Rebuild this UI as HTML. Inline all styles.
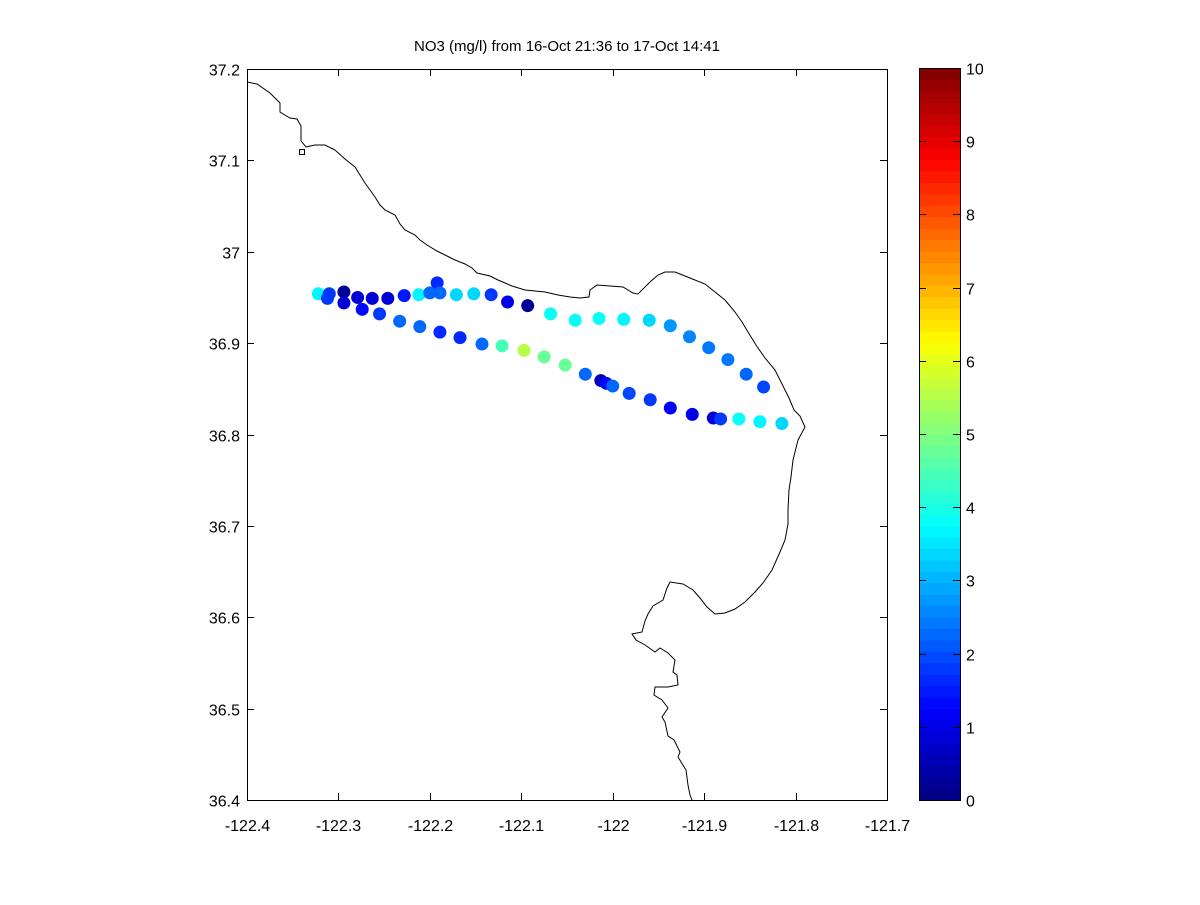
<!DOCTYPE html>
<html><head><meta charset="utf-8"><style>
html,body{margin:0;padding:0;background:#fff;}
svg text{font-family:"Liberation Sans",sans-serif;font-size:16px;fill:#000;}
</style></head><body>
<svg id="chart" width="1200" height="900" viewBox="0 0 1200 900">
<rect x="0" y="0" width="1200" height="900" fill="#fff"/>
<text x="567" y="51" text-anchor="middle" style="font-size:15px">NO3 (mg/l) from 16-Oct 21:36 to 17-Oct 14:41</text>
<g id="plot"></g>
<g id="cbar"></g>
</svg>
<script>
const xTicks = [-122.4,-122.3,-122.2,-122.1,-122,-121.9,-121.8,-121.7];
const xTickLabels = ["-122.4","-122.3","-122.2","-122.1","-122","-121.9","-121.8","-121.7"];
const yTicks = [36.4,36.5,36.6,36.7,36.8,36.9,37,37.1,37.2];
const yTickLabels = ["36.4","36.5","36.6","36.7","36.8","36.9","37","37.1","37.2"];
const cTicks = [0,1,2,3,4,5,6,7,8,9,10];
const lons = [-122.322,-122.310,-122.294,-122.279,-122.263,-122.246,-122.228,-122.212,-122.200,-122.192,-122.189,-122.171,-122.152,-122.133,-122.115,-122.093,-122.068,-122.041,-122.015,-121.988,-121.960,-121.937,-121.916,-121.895,-121.874,-121.854,-121.835,
 -122.312,-122.294,-122.274,-122.255,-122.233,-122.211,-122.189,-122.167,-122.143,-122.121,-122.097,-122.075,-122.052,-122.030,-122.013,-122.007,-122.000,-121.982,-121.959,-121.937,-121.913,-121.890,-121.882,-121.862,-121.839,-121.815];
const lats = [36.954,36.954,36.956,36.950,36.949,36.949,36.952,36.953,36.955,36.966,36.955,36.953,36.954,36.953,36.945,36.941,36.932,36.925,36.927,36.926,36.925,36.919,36.907,36.895,36.882,36.866,36.852,
 36.949,36.944,36.937,36.932,36.924,36.918,36.912,36.906,36.899,36.897,36.892,36.885,36.876,36.866,36.859,36.856,36.853,36.845,36.838,36.829,36.822,36.818,36.817,36.817,36.814,36.812];
const no3 = [3.7,1.8,0.3,0.8,0.8,0.8,1.5,3.7,2.3,1.6,2.3,3.3,3.4,1.8,1.0,0.3,3.8,3.9,3.8,3.6,3.4,2.8,2.6,2.5,2.4,2.2,1.9,
 1.8,0.8,1.3,1.8,2.3,2.2,1.6,1.7,2.2,4.5,5.6,4.7,4.7,2.3,0.5,1.3,2.2,1.9,1.8,1.2,1.0,0.8,1.8,3.8,3.6,3.4];
const coast = [[247,82],[257,84],[270,93],[280,103],[280,112],[290,118],[297,119],[301,126],[301,141],[306,147],[315,145],[325,145],[335,150],[345,159],[355,167],[360,175],[365,183],[370,190],[375,197],[380,205],[385,210],[395,215],[400,224],[405,230],[415,235],[420,240],[427,245],[437,251],[445,255],[455,260],[465,264],[472,268],[477,273],[490,276],[498,280],[512,286],[525,290],[545,292],[558,295],[570,297],[580,298],[589,297],[590,290],[597,285],[610,286],[623,287],[633,293],[638,294],[650,282],[658,275],[665,272],[675,272],[690,278],[705,284],[715,292],[725,300],[735,312],[742,322],[748,332],[756,345],[765,358],[775,370],[781,382],[784,388],[789,398],[794,410],[800,416],[805,427],[798,440],[793,460],[791,477],[789,490],[788,510],[788,524],[785,540],[780,552],[772,570],[763,583],[755,592],[745,602],[735,609],[725,613],[715,614],[707,607],[700,598],[693,590],[683,584],[670,582],[667,588],[663,600],[653,606],[648,614],[645,621],[642,632],[632,634],[636,640],[645,645],[655,652],[660,648],[668,653],[675,660],[673,672],[677,675],[678,685],[668,687],[655,687],[654,695],[662,700],[668,708],[662,717],[665,722],[668,736],[674,740],[680,752],[678,757],[686,770],[688,785],[690,795],[692,800]];

const NS='http://www.w3.org/2000/svg';
const X0=247,X1=887,Y0=69,Y1=800;
const sx=v=>X0+(v+122.4)/0.7*(X1-X0);
const sy=v=>Y1-(v-36.4)/0.8*(Y1-Y0);
function jet(v){
  let t=Math.max(0,Math.min(1,v/10));
  t=(Math.floor(t*63.999)+0.5)/64;
  const f=x=>Math.round(255*Math.max(0,Math.min(1,1.5-Math.abs(4*t-x))));
  return `rgb(${f(3)},${f(2)},${f(1)})`;
}
function mk(tag,attrs,parent){const e=document.createElementNS(NS,tag);for(const k in attrs)e.setAttribute(k,attrs[k]);parent.appendChild(e);return e;}
const plot=document.getElementById('plot');
const cbar=document.getElementById('cbar');

const cl=mk('polyline',{points:coast.map(p=>p.join(',')).join(' '),fill:'none',stroke:'#000','stroke-width':1},plot);


const isl=mk('rect',{x:299.5,y:149.5,width:5,height:5,fill:'none',stroke:'#000','stroke-width':1},plot);



for(let i=0;i<lons.length;i++){
  const c=mk('circle',{cx:sx(lons[i]),cy:sy(lats[i]),r:6.5,fill:jet(no3[i])},plot);
  
  
}

const fr=mk('rect',{x:X0+0.5,y:Y0+0.5,width:X1-X0,height:Y1-Y0,fill:'none',stroke:'#000','stroke-width':1},plot);



xTicks.forEach((v,i)=>{
  const x=Math.round(sx(v))+0.5;
  mk('line',{x1:x,y1:Y1,x2:x,y2:Y1-7,stroke:'#000'},plot);
  mk('line',{x1:x,y1:Y0,x2:x,y2:Y0+7,stroke:'#000'},plot);
  const t=mk('text',{x:x,y:Y1+31,'text-anchor':'middle'},plot);
  t.textContent=xTickLabels[i];
  
  
});
yTicks.forEach((v,i)=>{
  const y=Math.round(sy(v))+0.5;
  mk('line',{x1:X0,y1:y,x2:X0+7,y2:y,stroke:'#000'},plot);
  mk('line',{x1:X1,y1:y,x2:X1-7,y2:y,stroke:'#000'},plot);
  const t=mk('text',{x:X0-7,y:y+6,'text-anchor':'end'},plot);
  t.textContent=yTickLabels[i];
  
  
});

const CX0=919,CX1=960,CY0=68,CY1=800;
for(let k=0;k<64;k++){
  const v=(k+0.5)/64*10;
  const ya=CY1-(k+1)/64*(CY1-CY0), yb=CY1-k/64*(CY1-CY0);
  const r=mk('rect',{x:CX0,y:ya,width:CX1-CX0,height:yb-ya+0.6,fill:jet(v)},cbar);
  
  
}
mk('rect',{x:CX0+0.5,y:CY0+0.5,width:CX1-CX0,height:CY1-CY0,fill:'none',stroke:'#000'},cbar);
cTicks.forEach(v=>{
  const y=Math.round(CY1-v/10*(CY1-CY0))+0.5;
  mk('line',{x1:CX0,y1:y,x2:CX0+7,y2:y,stroke:'#000'},cbar);
  mk('line',{x1:CX1,y1:y,x2:CX1-7,y2:y,stroke:'#000'},cbar);
  const t=mk('text',{x:CX1+6,y:y+6,'text-anchor':'start'},cbar);
  t.textContent=String(v);
  
  
});
</script>
</body></html>
